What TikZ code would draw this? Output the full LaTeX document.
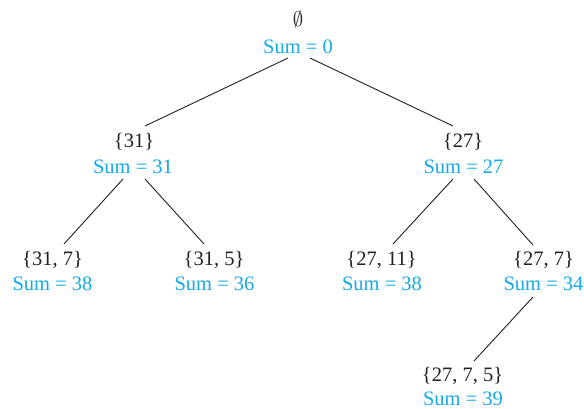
\documentclass[tikz,border=0pt]{standalone}
\usepackage{fontspec}
\setmainfont{Liberation Serif}
\definecolor{sumcol}{RGB}{20,170,230}
\definecolor{setcol}{RGB}{35,31,32}
\begin{document}
\begin{tikzpicture}[x=1pt,y=-1pt,
  setlbl/.style={anchor=base,inner sep=0pt,text=setcol,font=\fontsize{20.5}{24}\selectfont},
  sumlbl/.style={anchor=base,inner sep=0pt,text=sumcol,font=\fontsize{20.5}{24}\selectfont},
  edge/.style={draw=setcol,line width=0.9pt}]
\useasboundingbox (0,0) rectangle (584,408);
% root
\node[setlbl] (r) at (298,26) {$\emptyset$};
\node[sumlbl] (rs) at (298,53) {Sum = 0};
% level 1
\node[setlbl] (a) at (134,147) {\{31\}};
\node[sumlbl] (as) at (133,173) {Sum = 31};
\node[setlbl] (b) at (463,147) {\{27\}};
\node[sumlbl] (bs) at (463.5,173) {Sum = 27};
% level 2
\node[setlbl] (aa) at (52.5,265) {\{31, 7\}};
\node[sumlbl] (aas) at (52.5,290) {Sum = 38};
\node[setlbl] (ab) at (214,265) {\{31, 5\}};
\node[sumlbl] (abs) at (214.5,290) {Sum = 36};
\node[setlbl] (ba) at (381.5,265) {\{27, 11\}};
\node[sumlbl] (bas) at (382,290) {Sum = 38};
\node[setlbl] (bb) at (543.5,265) {\{27, 7\}};
\node[sumlbl] (bbs) at (543.5,290) {Sum = 34};
% level 3
\node[setlbl] (bbb) at (462.5,381.5) {\{27, 7, 5\}};
\node[sumlbl] (bbbs) at (463,405) {Sum = 39};
% edges
\draw[edge] ([shift={(-10,5)}]rs.base) -- ([shift={(11,-21)}]a.base);
\draw[edge] ([shift={(12,5)}]rs.base) -- ([shift={(-10,-21)}]b.base);
\draw[edge] ([shift={(-10,6)}]as.base) -- ([shift={(11.5,-21)}]aa.base);
\draw[edge] ([shift={(12,6)}]as.base) -- ([shift={(-10,-21)}]ab.base);
\draw[edge] ([shift={(-10.5,6)}]bs.base) -- ([shift={(11.5,-21)}]ba.base);
\draw[edge] ([shift={(10.5,6)}]bs.base) -- ([shift={(-10.5,-20)}]bb.base);
\draw[edge] ([shift={(-10.5,7)}]bbs.base) -- ([shift={(11.5,-20.5)}]bbb.base);
\end{tikzpicture}
\end{document}
